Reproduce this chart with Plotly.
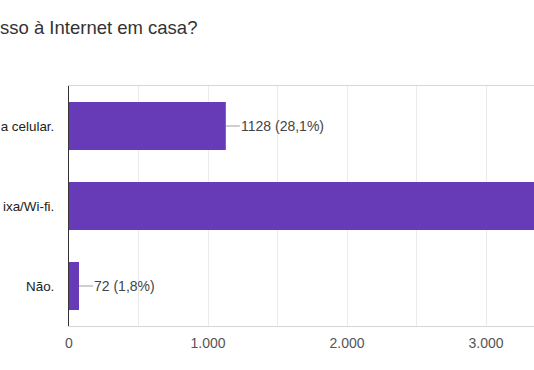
import plotly.graph_objects as go

categories = ["a celular.", "ixa/Wi-fi.", "Não."]
values = [1128, 3420, 72]
percents = ["28,1%", "85,2%", "1,8%"]
title_text = "sso à Internet em casa?"

bar_color = "#673ab7"
font_family = "Arial, 'Liberation Sans', sans-serif"

fig = go.Figure()
fig.add_trace(go.Bar(
    x=values,
    y=categories,
    orientation="h",
    marker=dict(color=bar_color, line=dict(width=0)),
    width=0.6,
    hoverinfo="skip",
))

for cat, v, p in zip(categories, values, percents):
    fig.add_annotation(
        x=v, y=cat, xref="x", yref="y",
        text=f"{v} ({p})",
        showarrow=True, arrowhead=0, arrowwidth=1, arrowcolor="#9e9e9e",
        ax=14, ay=0, xanchor="left",
        font=dict(family=font_family, size=14, color="#444444"),
        borderpad=0,
    )

fig.update_layout(
    width=534, height=370,
    margin=dict(l=69, r=0, t=86, b=44, autoexpand=False),
    paper_bgcolor="white", plot_bgcolor="white",
    separators=",.",
    showlegend=False,
    title=dict(
        text=title_text, xref="container", yref="container",
        x=0, xanchor="left", y=1 - 28 / 370, yanchor="middle",
        pad=dict(l=0),
        font=dict(family=font_family, size=18.5, color="#333333"),
    ),
    font=dict(family=font_family),
)
fig.update_xaxes(
    range=[0, 3345], automargin=False,
    dtick=1000, tick0=0, tickformat=",d",
    showgrid=True, gridcolor="#ebebeb", gridwidth=1,
    minor=dict(dtick=500, showgrid=True, gridcolor="#ebebeb", gridwidth=1),
    zeroline=False,
    showline=True, linecolor="#d6d6d6", linewidth=1, mirror=True,
    ticks="", ticklabelstandoff=4,
    tickfont=dict(family=font_family, size=14, color="#555555"),
)
fig.update_yaxes(
    autorange="reversed", automargin=False,
    showgrid=False, zeroline=False,
    showline=True, linecolor="#333333", linewidth=1,
    ticks="", ticklabelstandoff=11,
    tickfont=dict(family=font_family, size=13.4, color="#222222"),
)

fig.write_html(
    "out.html",
    config={"displayModeBar": False},
    post_script="document.body.style.margin='0';document.body.style.overflow='hidden';",
)
